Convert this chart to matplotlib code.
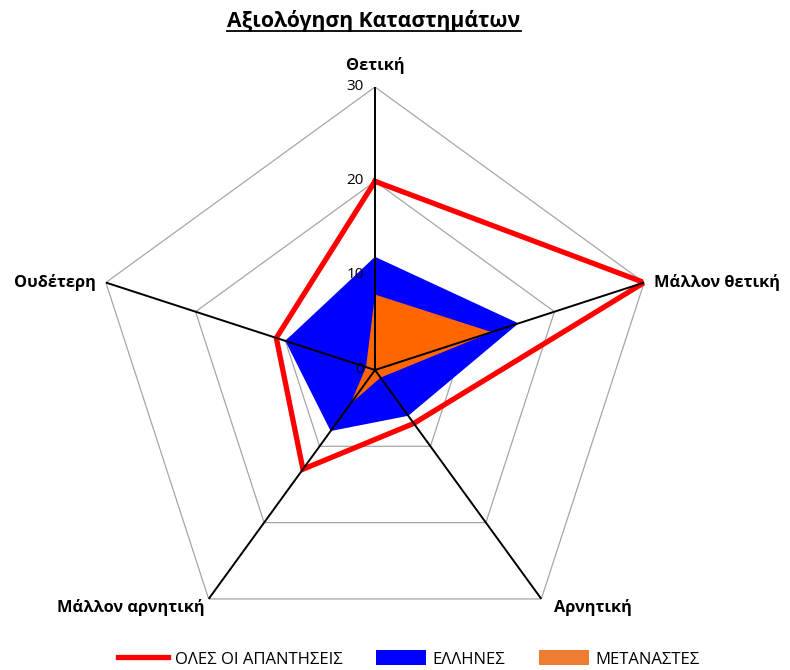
import numpy as np
import matplotlib
matplotlib.use("Agg")
import matplotlib.pyplot as plt
from matplotlib.lines import Line2D
from matplotlib.patches import Patch

plt.rcParams['font.family'] = ['Open Sans', 'DejaVu Sans']

title = "Αξιολόγηση Καταστημάτων"
categories = ["Θετική", "Μάλλον θετική", "Αρνητική", "Μάλλον αρνητική", "Ουδέτερη"]
all_answers = [20, 30, 7, 13, 11]
greeks = [12, 16, 6, 8, 10]
immigrants = [8, 13, 1, 4.4, 1]
series_names = ["ΟΛΕΣ ΟΙ ΑΠΑΝΤΗΣΕΙΣ", "ΕΛΛΗΝΕΣ", "ΜΕΤΑΝΑΣΤΕΣ"]
rticks = [0, 10, 20, 30]

W, H = 790, 670
fig = plt.figure(figsize=(W / 100, H / 100), dpi=100)
cx, cy, R = 375, 370, 283
ax = fig.add_axes([(cx - R) / W, (H - cy - R) / H, 2 * R / W, 2 * R / H], projection='polar')
ax.set_theta_offset(np.pi / 2)
ax.set_theta_direction(-1)
ax.set_ylim(0, 30)
ax.grid(False)
ax.spines['polar'].set_visible(False)
ax.set_xticks([])
ax.set_yticks([])
ax.patch.set_alpha(0)

n = len(categories)
angles = np.arange(n) * 2 * np.pi / n
ang_c = np.append(angles, angles[0])

def closed(v):
    return np.append(v, v[0])

# pentagon rings
for r in rticks[1:]:
    ax.plot(ang_c, [r] * (n + 1), color='#a6a6a6', lw=0.9, zorder=1)

ax.fill(ang_c, closed(greeks), color='#0000ff', zorder=2, lw=0)
ax.fill(ang_c, closed(immigrants), color='#ff6600', zorder=3, lw=0)
ax.plot(ang_c, closed(all_answers), color='#ff0000', lw=3.8, zorder=4, solid_joinstyle='miter')

# axis lines
for a in angles:
    ax.plot([a, a], [0, rticks[-1]], color='black', lw=1.4, zorder=5)

# tick labels
for r in rticks:
    ax.annotate(str(r), xy=(0, r), xytext=(-8, 0.5), textcoords='offset points',
                ha='right', va='center', fontsize=11, zorder=6)

# category labels (offsets in points)
offsets = [(0, 9, 'center', 'bottom'), (7, 0, 'left', 'center'),
           (9, -6, 'left', 'center'), (-3, -6, 'right', 'center'),
           (-7, 0, 'right', 'center')]
for a, lab, (dx, dy, ha, va) in zip(angles, categories, offsets):
    ax.annotate(lab, xy=(a, 30), xytext=(dx, dy), textcoords='offset points',
                ha=ha, va=va, fontsize=11.8, fontweight='bold', annotation_clip=False)

# title with underline
t = fig.text(374 / W, 1 - 21 / H, title, ha='center', va='center', fontsize=15.2, fontweight='bold')
fig.canvas.draw()
bb = t.get_window_extent(renderer=fig.canvas.get_renderer())
y_ul = (bb.y0 + 1) / H
fig.add_artist(Line2D([bb.x0 / W, bb.x1 / W], [y_ul, y_ul], color='black', lw=1.3,
                      transform=fig.transFigure))

handles = [Line2D([0], [0], color='#ff0000', lw=3.8),
           Patch(facecolor='#0000ff'),
           Patch(facecolor='#ed7d31')]
fig.legend(handles, series_names, loc='center', bbox_to_anchor=(409 / W, 1 - 659 / H),
           ncol=3, frameon=False, fontsize=12, handlelength=3.0, handleheight=1.0,
           columnspacing=2.0, handletextpad=0.4)

fig.savefig('out.png', dpi=100)
